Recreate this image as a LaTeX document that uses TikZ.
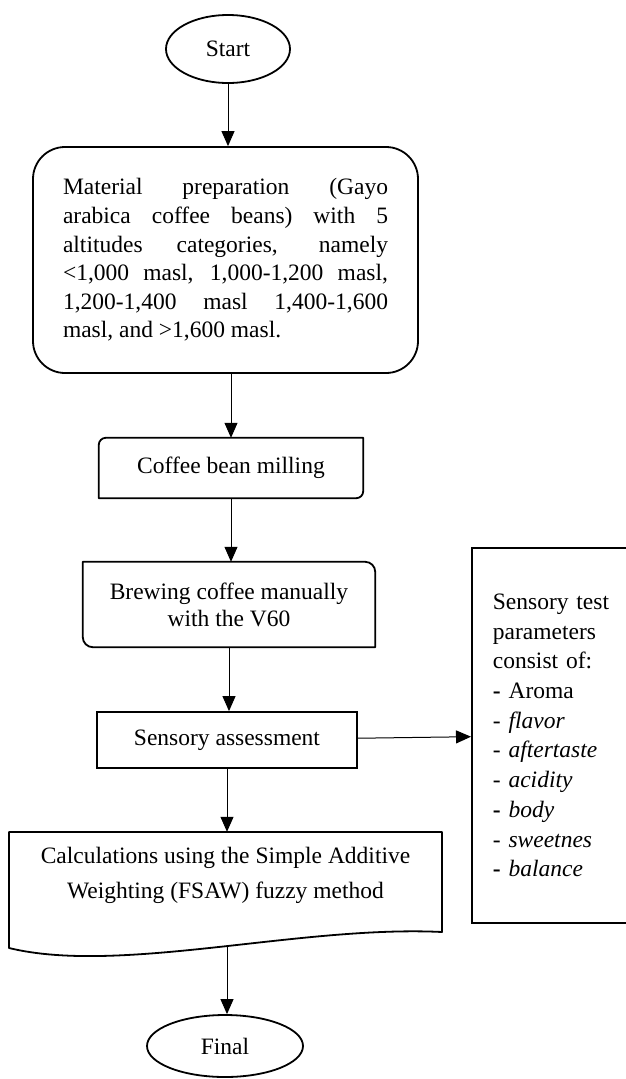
\documentclass[tikz,border=0pt]{standalone}
\usepackage{fontspec}
\setmainfont{Liberation Serif}
\usetikzlibrary{shapes.geometric,arrows.meta}

\begin{document}
\begin{tikzpicture}[x=1pt,y=-1pt,
    every node/.style={font=\fontsize{23.5}{28.6}\selectfont},
    terminal/.style={ellipse, draw, line width=1.8pt, inner sep=0pt},
    procbox/.style={rectangle, draw, line width=1.8pt, inner sep=0pt},
    plainbox/.style={rectangle, inner sep=0pt},
    boxline/.style={line width=1.8pt, line join=round},
    flow/.style={-{Triangle[width=13pt,length=15pt]}, line width=1pt}
  ]
    \useasboundingbox (0,0) rectangle (626,1079);
    \clip (0,0) rectangle (626,1079);

    % flow nodes
    \node[terminal, minimum width=124pt, minimum height=68pt] (start) at (228,49) {Start};
    \node[procbox, rounded corners=32pt, minimum width=385pt, minimum height=226pt,
      text width=325pt, align=justify] (prep) at (225.5,260) {%
      \tolerance=10000\hbadness=10000\relax
      Material preparation (Gayo\linebreak
      arabica coffee beans) with 5\linebreak
      altitudes categories, namely\linebreak
      <1,000 masl, 1,000-1,200 masl,\linebreak
      1,200-1,400 masl 1,400-1,600\linebreak
      masl, and >1,600 masl.};
    \node[plainbox, minimum width=264pt, minimum height=60pt] (mill) at (231,468) {Coffee bean milling};
    \node[plainbox, minimum width=292pt, minimum height=85pt, align=center,
      font=\fontsize{23.5}{27}\selectfont] (brew) at (229,604.5) {Brewing coffee manually\\with the V60};
    \node[procbox, minimum width=260pt, minimum height=56pt] (assess) at (227,740) {Sensory assessment};
    \node[plainbox, minimum width=433pt, minimum height=87pt, align=center,
      font=\fontsize{23.5}{35}\selectfont] (calc) at (225.5,875.5) {Calculations using the Simple Additive\\Weighting (FSAW) fuzzy method};
    \node[terminal, minimum width=156pt, minimum height=62pt] (final) at (225,1046) {Final};
    \coordinate (calcfoot) at (227,946);

    % parameter list
    \node[rectangle, draw, line width=1.8pt, anchor=north west, minimum width=190pt, minimum height=375pt,
      text width=148pt, align=left, inner xsep=21pt, inner ysep=0pt,
      font=\fontsize{23.5}{29.7}\selectfont] (params) at (471,547) {%
      Sensory test\\
      parameters\\
      consist of:\\
      \textbf{-} Aroma\\
      - \textit{flavor}\\
      - \textit{aftertaste}\\
      - \textit{acidity}\\
      \textbf{-} \textit{body}\\
      - \textit{sweetnes}\\
      \textbf{-} \textit{balance}};

    % box outlines
    \draw[boxline] ([xshift=7pt]mill.north west) -- (mill.north east)
      -- ([yshift=7pt]mill.south east) arc[start angle=0, end angle=-90, radius=7pt]
      -- (mill.south west) -- ([yshift=-7pt]mill.north west)
      arc[start angle=180, end angle=90, radius=7pt] -- cycle;
    \draw[boxline] (brew.north west) -- ([xshift=-10pt]brew.north east)
      arc[start angle=90, end angle=0, radius=10pt] -- (brew.south east)
      -- ([xshift=10pt]brew.south west) arc[start angle=270, end angle=180, radius=10pt] -- cycle;
    \draw[boxline] (9,832) -- (442,832) -- (442,932)
      .. controls (300,925) and (120,975) .. (9,948) -- cycle;

    % connectors
    \draw[flow] (start.south) -- (start.south |- prep.north);
    \draw[flow] (prep.south -| mill.north) -- (mill.north);
    \draw[flow] (mill.south) -- (mill.south |- brew.north);
    \draw[flow] (brew.south) -- (brew.south |- assess.north);
    \draw[flow] (assess) -- (params);
    \draw[flow] (assess.south) -- (assess.south |- calc.north);
    \draw[flow] (calcfoot) -- (calcfoot |- final.north);
\end{tikzpicture}
\end{document}
